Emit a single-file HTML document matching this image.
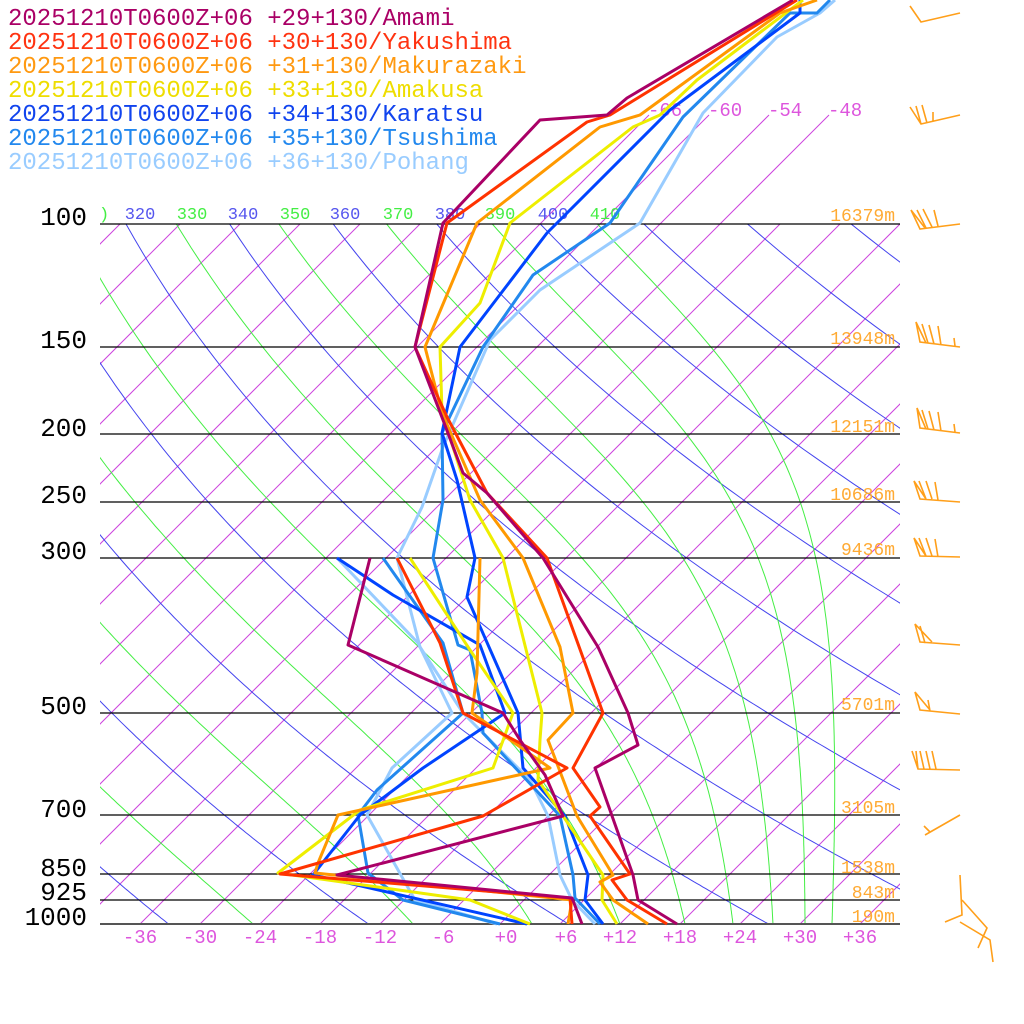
<!DOCTYPE html>
<html><head><meta charset="utf-8"><style>
html,body{margin:0;padding:0;background:#fff;}
svg{display:block}
text{font-family:"Liberation Mono",monospace}
</style></head><body>
<svg id="s" width="1024" height="1024" viewBox="0 0 1024 1024" xmlns="http://www.w3.org/2000/svg">
<defs><clipPath id="pc"><rect x="100" y="224" width="800" height="700"/></clipPath></defs>
<g id="bg" clip-path="url(#pc)"></g>
<g id="iso2"></g>
<g id="plines" stroke="#000" stroke-width="1.3">
<line x1="100" y1="224" x2="900" y2="224"/><line x1="100" y1="347" x2="900" y2="347"/>
<line x1="100" y1="434" x2="900" y2="434"/><line x1="100" y1="502" x2="900" y2="502"/>
<line x1="100" y1="558" x2="900" y2="558"/><line x1="100" y1="713" x2="900" y2="713"/>
<line x1="100" y1="815" x2="900" y2="815"/><line x1="100" y1="874" x2="900" y2="874"/>
<line x1="100" y1="900" x2="900" y2="900"/><line x1="100" y1="924" x2="900" y2="924" stroke="#555" stroke-width="2"/>
</g>
<g font-size="26" fill="#000" text-anchor="end">
<text x="87" y="225">100</text>
<text x="87" y="348">150</text>
<text x="87" y="436">200</text>
<text x="87" y="503">250</text>
<text x="87" y="559">300</text>
<text x="87" y="714">500</text>
<text x="87" y="817">700</text>
<text x="87" y="876">850</text>
<text x="87" y="900">925</text>
<text x="87" y="925">1000</text>
</g>
<g font-size="19" fill="#dd55dd" text-anchor="middle">
<text x="140" y="943">-36</text><text x="200" y="943">-30</text><text x="260" y="943">-24</text>
<text x="320" y="943">-18</text><text x="380" y="943">-12</text><text x="443" y="943">-6</text>
<text x="506" y="943">+0</text><text x="566" y="943">+6</text><text x="620" y="943">+12</text>
<text x="680" y="943">+18</text><text x="740" y="943">+24</text><text x="800" y="943">+30</text>
<text x="860" y="943">+36</text>
</g>
<g font-size="19" fill="#dd55dd">
<text x="648" y="116">-66</text><text x="708" y="116">-60</text><text x="768" y="116">-54</text><text x="828" y="116">-48</text>
</g>
<g font-size="17" text-anchor="middle">
<text x="140" y="219" fill="#5555ee">320</text><text x="192" y="219" fill="#44ee44">330</text>
<text x="243" y="219" fill="#5555ee">340</text><text x="295" y="219" fill="#44ee44">350</text>
<text x="345" y="219" fill="#5555ee">360</text><text x="398" y="219" fill="#44ee44">370</text>
<text x="450" y="219" fill="#5555ee">380</text><text x="500" y="219" fill="#44ee44">390</text>
<text x="553" y="219" fill="#5555ee">400</text><text x="605" y="219" fill="#44ee44">410</text>
<text x="99" y="219" fill="#44ee44" text-anchor="start">)</text>
</g>
<g font-size="18" fill="#ffaa33" text-anchor="end">
<text x="895" y="221">16379m</text><text x="895" y="344">13948m</text><text x="895" y="432">12151m</text>
<text x="895" y="500">10686m</text><text x="895" y="555">9436m</text><text x="895" y="710">5701m</text>
<text x="895" y="813">3105m</text><text x="895" y="873">1538m</text><text x="895" y="898">843m</text>
<text x="895" y="922">190m</text>
</g>
<g fill="none" stroke-width="3" stroke-linejoin="round">
<polyline stroke="#99ccff" points="835,0 820,13 777,37 703,113 640,223 540,290 490,340 443,447 422,507 397,558 420,647 463,713 530,780 548,816 560,875 572,900 595,924"/>
<polyline stroke="#99ccff" points="337,558 418,643 452,713 392,768 367,815 415,900 497,924"/>
<polyline stroke="#2288ee" points="830,0 817,13 790,13 683,117 610,223 533,275 483,347 442,433 443,500 433,558 458,645 470,650 482,713 483,733 560,816 573,875 575,898 600,924"/>
<polyline stroke="#2288ee" points="383,558 443,643 463,713 377,790 358,815 368,873 403,900 500,924"/>
<polyline stroke="#0044ff" points="800,0 800,13 670,110 547,233 460,347 442,433 457,480 475,558 467,597 518,713 523,768 565,816 588,875 585,900 603,924"/>
<polyline stroke="#0044ff" points="337,558 393,595 480,645 505,713 423,768 360,815 313,875 527,924"/>
<polyline stroke="#eeee00" points="803,0 697,80 660,115 633,127 510,223 480,303 440,347 442,413 470,500 503,558 542,713 540,740 538,780 563,816 603,875 602,900 617,924"/>
<polyline stroke="#eeee00" points="410,558 470,650 513,713 493,768 360,810 278,873 470,900 530,924"/>
<polyline stroke="#ff9900" points="817,0 780,13 640,115 600,127 477,223 425,347 442,413 480,500 523,558 560,647 573,713 548,740 577,816 613,875 600,882 613,900 648,924"/>
<polyline stroke="#ff9900" points="480,558 477,673 472,713 550,768 338,815 318,863 315,873 572,900 568,924"/>
<polyline stroke="#ff3300" points="797,0 610,115 587,122 447,223 415,347 447,417 487,493 547,558 603,713 573,768 600,807 590,816 630,874 612,880 627,900 667,924"/>
<polyline stroke="#ff3300" points="397,558 440,643 463,713 567,768 483,816 280,874 570,898 572,924"/>
<polyline stroke="#aa0066" points="793,0 627,98 607,115 540,120 443,223 415,347 443,420 463,473 487,493 543,558 598,647 628,713 638,745 595,768 633,875 638,900 677,924"/>
<polyline stroke="#aa0066" points="370,558 348,645 503,713 520,740 545,775 563,816 337,875 572,898 582,924"/>
</g>
<g font-size="24">
<text x="8" y="25" fill="#aa0066">20251210T0600Z+06 +29+130/Amami</text>
<text x="8" y="49" fill="#ff3311">20251210T0600Z+06 +30+130/Yakushima</text>
<text x="8" y="73" fill="#ff9911">20251210T0600Z+06 +31+130/Makurazaki</text>
<text x="8" y="97" fill="#eedd00">20251210T0600Z+06 +33+130/Amakusa</text>
<text x="8" y="121" fill="#1144ee">20251210T0600Z+06 +34+130/Karatsu</text>
<text x="8" y="145" fill="#2288ee">20251210T0600Z+06 +35+130/Tsushima</text>
<text x="8" y="169" fill="#99ccff">20251210T0600Z+06 +36+130/Pohang</text>
</g>
<g fill="none" stroke="#ff9f1a" stroke-width="1.6">
<path d="M960,13 L921,22 L910,6"/>
<path d="M960,115 L921,124 L910,107 M921,124 L916,106 M927,123 L922,105 M933,121 L933,112"/>
<path d="M960,224 L920,229 L911,210 L925,228 M926,228 L917,210 M932,227 L923,209 M938,226 L934,210"/>
<path d="M960,347 L920,342 L916,322 L926,343 M928,343 L922,324 M934,344 L929,325 M941,345 L938,326 M955,346 L954,338"/>
<path d="M960,433 L920,428 L917,408 L926,429 M928,429 L922,410 M934,430 L929,411 M941,431 L938,412 M955,432 L954,424"/>
<path d="M960,502 L920,499 L914,481 L926,499 M926,499 L919,481 M932,499 L926,481 M938,500 L935,482"/>
<path d="M960,557 L920,556 L914,538 L926,556 M926,556 L919,538 M932,556 L926,538 M938,557 L935,539"/>
<path d="M960,645 L920,642 L915,624 L932,642 M925,643 L920,626"/>
<path d="M960,714 L920,710 L915,692 L930,710 M930,711 L928,700"/>
<path d="M960,770 L918,769 L912,751 M918,769 L916,751 M924,769 L920,751 M930,769 L926,751 M936,769 L932,751"/>
<path d="M960,815 L925,835 M930,832 L924,826"/>
<path d="M960,875 L962,915 L945,922 M962,900 L987,928 L978,948 M960,922 L990,940 L993,962"/>
</g>
<script>
(function(){
var NS="http://www.w3.org/2000/svg";
var bg=document.getElementById('bg');
function Y(p){return 924-304*Math.log(1000/p);}
function X(T,y){return 500+10*T+(924-y);}
function add(parent,d,col){var e=document.createElementNS(NS,'path');e.setAttribute('d',d);e.setAttribute('stroke',col);e.setAttribute('stroke-width','1');e.setAttribute('fill','none');parent.appendChild(e);}
for(var T=-150;T<=60;T+=6){
  var x0=X(T,924);
  add(bg,'M'+x0+',924 L'+(x0+700)+',224','#cc44dd');
}
var iso2=document.getElementById('iso2');
[-66,-60,-54,-48].forEach(function(T){
  var ya=224,yb=115;add(iso2,'M'+X(T,ya)+','+ya+' L'+Math.min(X(T,yb),900)+','+yb,'#cc44dd');
});
for(var th=180;th<=520;th+=20){
  var d='';
  for(var p=1050;p>=90;p-=5){var Tk=th*Math.pow(p/1000,0.2857);var y=Y(p);var x=X(Tk-273.15,y);d+=(d?'L':'M')+x.toFixed(1)+','+y.toFixed(1)+' ';}
  add(bg,d,'#4444ee');
}
function es(Tc){return 6.112*Math.exp(17.67*Tc/(Tc+243.5));}
function dTdp(Tk,p){var Tc=Tk-273.15;var e=es(Tc);var rs=0.622*e/Math.max(p-e,1);var Rd=287,cp=1004,L=2.5e6;
 return (Rd*Tk+L*rs)/(p*(cp+L*L*rs*0.622/(Rd*Tk*Tk)));}
[-56,-40.5,-24.7,-8.7,3.2,12,18.5,23.3,27.3,30.5,33.2].forEach(function(T0){
  var Tk=T0+273.15,p=1000,d='';
  var y=Y(p);d='M'+X(T0,y).toFixed(1)+','+y.toFixed(1);
  while(p>90){var dp=-2;var k1=dTdp(Tk,p);var k2=dTdp(Tk+k1*dp/2,p+dp/2);Tk+=k2*dp;p+=dp;
    if(Math.round(p)%6==0){y=Y(p);d+=' L'+X(Tk-273.15,y).toFixed(1)+','+y.toFixed(1);}}
  add(bg,d,'#44ee44');
});
})();
</script>
</svg>
</body></html>
